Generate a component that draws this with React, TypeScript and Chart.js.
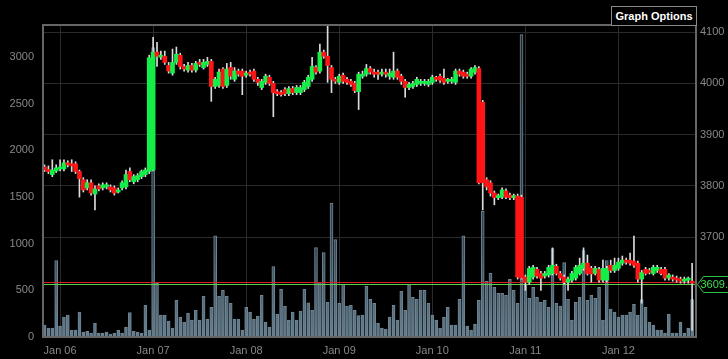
import React, { useEffect, useRef } from 'react';
import Chart from 'chart.js/auto';

// hours relative to Jan 06 00:00, first candle at startHour
const startHour = -4;
const dayTicks = [0, 24, 48, 72, 96, 120, 144];
const dayLabels = ['Jan 06', 'Jan 07', 'Jan 08', 'Jan 09', 'Jan 10', 'Jan 11', 'Jan 12'];
const volumeTicks = [0, 500, 1000, 1500, 2000, 2500, 3000];
const priceTicks = [3700, 3800, 3900, 4000, 4100];
const lastPrice = 3609.1;
const refPrice = 3612.5;

const opens = [
  3837, 3831, 3822, 3829, 3833, 3833, 3845, 3841, 3843, 3828,
  3812, 3796, 3806, 3784, 3800, 3796, 3798, 3798, 3796, 3788,
  3796, 3798, 3828, 3808, 3812, 3818, 3822, 3828, 3831, 4061,
  4051, 4053, 4035, 4020, 4041, 4055, 4033, 4026, 4035, 4026,
  4041, 4031, 4037, 4043, 3994, 3996, 4028, 3996, 4031, 4008,
  4024, 4024, 4016, 4022, 4024, 4008, 3992, 4002, 4012, 4000,
  3984, 3982, 3988, 3980, 3990, 3982, 3982, 3988, 3994, 4008,
  4031, 4024, 4061, 4053, 4031, 4008, 4002, 4016, 4008, 4004,
  4000, 3984, 4014, 4018, 4029, 4022, 4020, 4018, 4020, 4014,
  4012, 4024, 4014, 4004, 3992, 3994, 3998, 4000, 4000, 3998,
  4002, 4010, 4014, 4010, 4004, 4004, 4002, 4024, 4022, 4018,
  4014, 4022, 4029, 3963, 3812, 3806, 3786, 3777, 3778, 3790,
  3782, 3777, 3780, 3778, 3622, 3612, 3622, 3637, 3629, 3624,
  3626, 3629, 3643, 3629, 3622, 3612, 3616, 3620, 3629, 3639,
  3649, 3639, 3629, 3637, 3616, 3616, 3645, 3635, 3639, 3649,
  3655, 3655, 3653, 3649, 3618, 3637, 3635, 3629, 3635, 3637,
  3637, 3620, 3622, 3620, 3618, 3614, 3616, 3614,
];
const closes = [
  3831, 3828, 3831, 3835, 3835, 3845, 3841, 3839, 3828, 3814,
  3792, 3806, 3786, 3794, 3794, 3802, 3802, 3792, 3786, 3792,
  3806, 3822, 3812, 3818, 3820, 3828, 3831, 4050, 4061, 4053,
  4055, 4041, 4024, 4041, 4057, 4033, 4028, 4035, 4026, 4039,
  4037, 4041, 4043, 3994, 4008, 4022, 3994, 4028, 4014, 4024,
  4018, 4014, 4020, 4018, 4008, 4002, 4004, 4014, 4000, 3982,
  3980, 3978, 3980, 3990, 3982, 3992, 3992, 4002, 4012, 4033,
  4022, 4061, 4053, 4035, 4008, 4004, 4014, 4004, 4002, 3998,
  3986, 4018, 4018, 4029, 4022, 4018, 4018, 4022, 4018, 4020,
  4024, 4012, 4004, 3992, 3998, 4000, 4008, 4004, 4004, 4004,
  4012, 4008, 4006, 4002, 4006, 4008, 4024, 4018, 4014, 4014,
  4028, 4031, 3806, 3806, 3798, 3786, 3777, 3780, 3792, 3778,
  3777, 3780, 3622, 3620, 3612, 3639, 3641, 3624, 3620, 3629,
  3641, 3645, 3629, 3620, 3612, 3618, 3629, 3641, 3645, 3649,
  3629, 3628, 3639, 3616, 3639, 3639, 3635, 3645, 3651, 3655,
  3651, 3649, 3645, 3618, 3631, 3629, 3631, 3641, 3641, 3629,
  3620, 3626, 3618, 3616, 3614, 3618, 3618, 3610,
];
const highs = [
  3841, 3839, 3851, 3841, 3851, 3851, 3849, 3851, 3847, 3831,
  3816, 3812, 3812, 3800, 3804, 3806, 3806, 3802, 3800, 3796,
  3810, 3831, 3835, 3822, 3824, 3831, 3835, 4055, 4090, 4080,
  4063, 4063, 4041, 4067, 4071, 4059, 4037, 4041, 4039, 4043,
  4047, 4047, 4051, 4047, 4012, 4028, 4031, 4039, 4041, 4031,
  4028, 4028, 4024, 4026, 4028, 4012, 4008, 4018, 4016, 4004,
  3988, 3986, 3992, 3994, 3994, 3996, 3996, 4006, 4016, 4051,
  4035, 4077, 4065, 4112, 4035, 4012, 4018, 4020, 4012, 4008,
  4004, 4022, 4024, 4037, 4033, 4028, 4026, 4028, 4028, 4028,
  4061, 4028, 4018, 4008, 4002, 4004, 4012, 4008, 4008, 4008,
  4016, 4014, 4018, 4028, 4010, 4012, 4028, 4028, 4026, 4022,
  4031, 4035, 4033, 3967, 3816, 3810, 3790, 3784, 3796, 3794,
  3786, 3784, 3784, 3782, 3626, 3643, 3645, 3641, 3633, 3633,
  3645, 3679, 3647, 3633, 3626, 3622, 3633, 3645, 3659, 3679,
  3665, 3643, 3643, 3641, 3655, 3643, 3655, 3659, 3659, 3663,
  3659, 3669, 3702, 3653, 3635, 3641, 3639, 3645, 3645, 3641,
  3641, 3629, 3626, 3624, 3622, 3622, 3622, 3649,
];
const lows = [
  3828, 3824, 3818, 3826, 3829, 3829, 3837, 3828, 3824, 3778,
  3788, 3792, 3782, 3753, 3790, 3792, 3794, 3788, 3782, 3786,
  3792, 3794, 3808, 3804, 3808, 3814, 3818, 3824, 3829, 4033,
  4047, 4037, 4020, 4016, 4037, 4028, 4024, 4022, 4022, 4022,
  4033, 4028, 4033, 3965, 3990, 3992, 3990, 3992, 4008, 4004,
  4014, 3978, 4012, 4014, 4004, 3996, 3988, 3998, 3996, 3935,
  3976, 3975, 3976, 3976, 3978, 3978, 3978, 3984, 3990, 4004,
  4018, 4020, 4049, 4002, 3982, 4000, 3998, 4000, 3998, 3994,
  3982, 3949, 4010, 4014, 4018, 4012, 4008, 4014, 4012, 4008,
  4008, 4008, 3998, 3973, 3988, 3990, 3994, 3996, 3996, 3994,
  3998, 4004, 4002, 3998, 4000, 4000, 3998, 4014, 4010, 4010,
  4010, 4018, 3804, 3753, 3792, 3780, 3763, 3773, 3775, 3775,
  3773, 3773, 3618, 3618, 3596, 3608, 3618, 3620, 3596, 3620,
  3622, 3626, 3626, 3616, 3608, 3596, 3612, 3616, 3626, 3635,
  3626, 3612, 3626, 3612, 3612, 3612, 3631, 3631, 3635, 3645,
  3647, 3645, 3641, 3612, 3571, 3626, 3628, 3626, 3631, 3626,
  3616, 3616, 3614, 3612, 3610, 3610, 3610, 3518,
];
const volumes = [
  128, 96, 96, 819, 117, 213, 234, 74, 74, 266,
  53, 64, 43, 149, 43, 43, 53, 32, 43, 74,
  43, 106, 262, 64, 53, 43, 340, 74, 3100, 575,
  234, 234, 170, 96, 394, 213, 160, 255, 181, 287,
  181, 436, 192, 319, 1085, 436, 500, 436, 362, 192,
  192, 74, 319, 266, 192, 223, 447, 160, 106, 755,
  245, 511, 330, 181, 266, 181, 277, 511, 365, 287,
  958, 585, 904, 372, 1436, 1043, 362, 564, 330, 340,
  287, 230, 234, 543, 404, 362, 149, 96, 85, 213,
  340, 181, 490, 287, 564, 425, 404, 500, 500, 362,
  234, 181, 96, 213, 319, 128, 128, 404, 1085, 117,
  74, 138, 394, 1350, 596, 681, 532, 468, 468, 447,
  617, 500, 362, 3240, 564, 415, 532, 425, 372, 394,
  319, 947, 362, 330, 798, 404, 181, 372, 425, 926,
  394, 450, 415, 532, 181, 819, 298, 266, 213, 234,
  234, 266, 351, 234, 400, 319, 160, 128, 74, 74,
  43, 245, 43, 43, 160, 43, 96, 400,
];

const FONT = 'Arial, "Liberation Sans", sans-serif';
const X_MIN = -4.4;
const X_MAX = 164;
const VOLUME_INDEX = 0;

// horizontal reference lines drawn right after the volume bars (under the candles)
const levelLinesPlugin = {
  id: 'levelLines',
  afterDatasetDraw(chart: any, args: any) {
    if (args.index !== VOLUME_INDEX) return;
    const { ctx, chartArea: a } = chart;
    const scale = chart.scales.price;
    const draw = (v: number, color: string) => {
      const y = Math.round(scale.getPixelForValue(v)) + 0.5;
      ctx.beginPath();
      ctx.moveTo(a.left, y);
      ctx.lineTo(a.right, y);
      ctx.strokeStyle = color;
      ctx.lineWidth = 1;
      ctx.stroke();
    };
    ctx.save();
    draw(refPrice, '#d42020');
    draw(lastPrice, '#5ccf4c');
    ctx.restore();
  },
};

const framePlugin = {
  id: 'frameAndTag',
  afterDraw(chart: any) {
    const { ctx, chartArea: a } = chart;
    ctx.save();
    ctx.strokeStyle = '#666';
    ctx.lineWidth = 2;
    ctx.beginPath();
    ctx.moveTo(a.left - 1, a.top);
    ctx.lineTo(a.right + 1, a.top);
    ctx.stroke();

    const y = Math.round(chart.scales.price.getPixelForValue(lastPrice)) + 0.5;
    const x0 = a.right + 1.5;
    ctx.beginPath();
    ctx.moveTo(x0, y);
    ctx.lineTo(x0 + 6, y - 8);
    ctx.lineTo(chart.width + 5, y - 8);
    ctx.lineTo(chart.width + 5, y + 8);
    ctx.lineTo(x0 + 6, y + 8);
    ctx.closePath();
    ctx.fillStyle = '#000';
    ctx.fill();
    ctx.strokeStyle = '#2fc445';
    ctx.lineWidth = 1;
    ctx.stroke();
    ctx.fillStyle = '#3fdd55';
    ctx.font = '11px ' + FONT;
    ctx.textAlign = 'left';
    ctx.textBaseline = 'middle';
    ctx.fillText(lastPrice.toFixed(1), x0 + 3, y + 0.5);
    ctx.restore();
  },
};

export default function App() {
  const ref = useRef<HTMLCanvasElement>(null);

  useEffect(() => {
    if (!ref.current) return;
    const hours = opens.map((_, i) => startHour + i);
    const bodyColors = opens.map((o, i) => (closes[i] >= o ? '#14ee46' : '#ff1515'));

    const volFill = (c: any) => {
      const area = c.chart.chartArea;
      if (!area) return '#4f6776';
      const g = c.chart.ctx.createLinearGradient(0, area.top, 0, area.bottom);
      g.addColorStop(0, '#1c242a');
      g.addColorStop(0.72, '#364855');
      g.addColorStop(1, '#647f90');
      return g;
    };

    const plainTick = (v: any) => String(v);

    const chart = new Chart(ref.current, {
      type: 'bar',
      data: {
        datasets: [
          {
            type: 'bar',
            label: 'volume',
            data: volumes.map((v, i) => ({ x: hours[i], y: v })),
            yAxisID: 'vol',
            backgroundColor: volFill,
            borderColor: 'rgba(130,155,172,0.85)',
            borderWidth: 1,
            barThickness: 3,
            grouped: false,
            order: 5,
          },
          {
            type: 'bar',
            label: 'wick',
            data: lows.map((l, i) => ({ x: hours[i], y: [l, highs[i]] })),
            yAxisID: 'price',
            backgroundColor: '#dcdcdc',
            barThickness: 1,
            grouped: false,
            order: 2,
          },
          {
            type: 'bar',
            label: 'body',
            data: opens.map((o, i) => ({ x: hours[i], y: [o, closes[i]] })),
            yAxisID: 'price',
            backgroundColor: bodyColors,
            barThickness: 4,
            minBarLength: 2,
            grouped: false,
            order: 1,
          },
        ],
      } as any,
      options: {
        animation: false,
        responsive: false,
        maintainAspectRatio: false,
        layout: { padding: { top: 25, left: 0, right: 0, bottom: 0 } },
        plugins: { legend: { display: false }, tooltip: { enabled: false } },
        scales: {
          x: {
            type: 'linear',
            min: X_MIN,
            max: X_MAX,
            offset: false,
            grid: { color: '#2a2a2a', drawTicks: false, offset: false },
            border: { color: '#666', width: 2, z: 1 },
            ticks: {
              color: '#888',
              font: { family: FONT, size: 11 },
              padding: 7,
              autoSkip: false,
              maxRotation: 0,
              callback: (v: any) => {
                const k = dayTicks.indexOf(Number(v));
                return k >= 0 ? dayLabels[k] : '';
              },
            },
            afterBuildTicks: (s: any) => {
              s.ticks = dayTicks.map((v) => ({ value: v }));
            },
            afterFit: (s: any) => {
              s.height = 22;
            },
          },
          vol: {
            type: 'linear',
            position: 'left',
            min: 0,
            max: 3343,
            grid: { display: false, drawTicks: false },
            border: { color: '#666', width: 2, z: 1 },
            ticks: { color: '#888', font: { family: FONT, size: 11 }, padding: 9, callback: plainTick },
            afterBuildTicks: (s: any) => {
              s.ticks = volumeTicks.map((v) => ({ value: v }));
            },
            afterFit: (s: any) => {
              s.width = 43;
            },
          },
          price: {
            type: 'linear',
            position: 'right',
            min: 3505,
            max: 4114,
            grid: { color: '#2a2a2a', drawTicks: false },
            border: { color: '#666', width: 2, z: 1 },
            ticks: { color: '#888', font: { family: FONT, size: 11 }, padding: 4, callback: plainTick },
            afterBuildTicks: (s: any) => {
              s.ticks = priceTicks.map((v) => ({ value: v }));
            },
            afterFit: (s: any) => {
              s.width = 32;
            },
          },
        },
      } as any,
      plugins: [levelLinesPlugin, framePlugin],
    });
    return () => chart.destroy();
  }, []);

  return (
    <div
      style={{
        position: 'fixed',
        left: 0,
        top: 0,
        width: 728,
        height: 359,
        background: '#000',
        overflow: 'hidden',
      }}
    >
      <canvas ref={ref} width={728} height={359} style={{ display: 'block' }} />
      <div
        style={{
          position: 'absolute',
          left: 611,
          top: 6,
          width: 86,
          height: 20,
          boxSizing: 'border-box',
          border: '1px solid #8a8a8a',
          background: '#000',
          color: '#fff',
          font: 'bold 11px ' + FONT,
          lineHeight: '18px',
          textAlign: 'center',
          whiteSpace: 'nowrap',
        }}
      >
        Graph Options
      </div>
    </div>
  );
}
